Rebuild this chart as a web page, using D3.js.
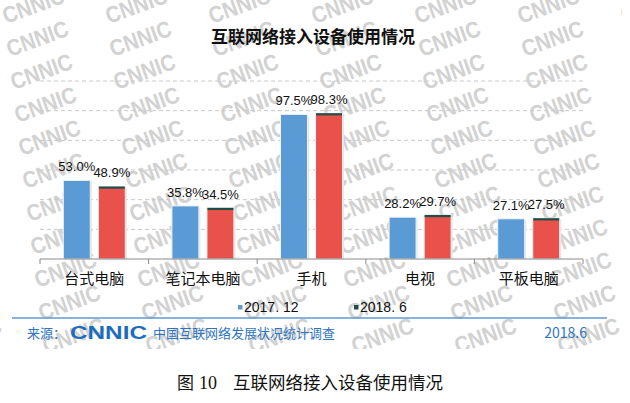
<!DOCTYPE html>
<html lang="zh">
  <head>
    <meta charset="UTF-8" />
    <title>互联网络接入设备使用情况</title>
    <script src="https://d3js.org/d3.v7.min.js"></script>
    <style>
      body { margin: 0; background: #fff; }
      svg { display: block; font-family: 'Liberation Sans', Arial, 'Noto Sans CJK SC', sans-serif; }
      .cjk { font-family: 'Noto Sans CJK SC', sans-serif; }
    </style>
  </head>
  <body>
    <svg width="630" height="403"></svg>
  </body>

  <script>
    // 数据
    var categories = ['台式电脑', '笔记本电脑', '手机', '电视', '平板电脑']
    var seriesNames = ['2017. 12', '2018. 6']
    var values2017 = [53.0, 35.8, 97.5, 28.2, 27.1]
    var values2018 = [48.9, 34.5, 98.3, 29.7, 27.5]
    var yTicks = [0, 20, 40, 60, 80, 100, 120]

    var svg = d3.select('svg')

    // 水印 (只在图片区域内)
    svg.append('clipPath').attr('id', 'wmclip')
      .append('rect').attr('x', 0).attr('y', 0).attr('width', 622).attr('height', 349)
    var wm = svg.append('g').attr('clip-path', 'url(#wmclip)')
    for (var r = 0; r < 12; r++) {
      for (var c = -1; c < 7; c++) {
        var wx = c * 103 + r * 4 + 6
        var wy = r * 33 + 24
        wm.append('text')
          .attr('transform', 'translate(' + wx + ',' + wy + ') rotate(-20)')
          .attr('font-size', 23)
          .attr('font-weight', 'bold')
          .attr('textLength', 64)
          .attr('lengthAdjust', 'spacingAndGlyphs')
          .attr('fill', '#d2d2d2')
          .text('CNNIC')
      }
    }

    var plotLeft = 40, plotRight = 583, plotTop = 81, plotBottom = 259

    var x0 = d3.scaleBand().domain(categories).range([plotLeft, plotRight]).padding(0)
    var bw = x0.bandwidth()
    var x1 = d3.scaleBand().domain(seriesNames).range([bw / 2 - 31, bw / 2 + 31]).paddingInner(0.23)
    var y = d3.scaleLinear().domain([0, 120]).range([plotBottom, plotTop])

    // 网格线
    svg.append('g')
      .selectAll('line')
      .data(yTicks.slice(1))
      .enter()
      .append('line')
      .attr('x1', plotLeft)
      .attr('x2', plotRight)
      .attr('y1', function (d) { return y(d) })
      .attr('y2', function (d) { return y(d) })
      .attr('stroke', '#c8c8c8')
      .attr('stroke-dasharray', '4,3')

    // 柱子
    var rows = categories.map(function (c, i) {
      return { cat: c, vals: [values2017[i], values2018[i]] }
    })
    var colors = ['#5b9bd5', '#e8524a']

    var groups = svg.append('g')
      .selectAll('g')
      .data(rows)
      .enter()
      .append('g')
      .attr('transform', function (d) { return 'translate(' + x0(d.cat) + ',0)' })

    groups.each(function (d) {
      var g = d3.select(this)
      d.vals.forEach(function (v, i) {
        var bx = x1(seriesNames[i])
        // 阴影
        g.append('rect')
          .attr('x', bx + 1.5)
          .attr('y', y(v) + 1.5)
          .attr('width', x1.bandwidth())
          .attr('height', plotBottom - y(v) - 1.5)
          .attr('fill', '#e4e4e4')
        g.append('rect')
          .attr('x', bx)
          .attr('y', y(v))
          .attr('width', x1.bandwidth())
          .attr('height', plotBottom - y(v))
          .attr('fill', colors[i])
          .attr('stroke', '#eef3f8')
          .attr('stroke-width', 1)
        if (i === 1) {
          g.append('rect')
            .attr('x', bx + 0.5)
            .attr('y', y(v))
            .attr('width', x1.bandwidth() - 1)
            .attr('height', 2.2)
            .attr('fill', '#1f4f48')
        }
        g.append('text')
          .attr('x', bx + x1.bandwidth() / 2)
          .attr('y', y(v) - 9)
          .attr('text-anchor', 'middle')
          .attr('font-size', 13)
          .attr('fill', '#111')
          .text(v.toFixed(1) + '%')
      })
    })

    // 坐标轴
    var axis = svg.append('g').attr('transform', 'translate(0,' + plotBottom + ')')
    axis.append('line').attr('x1', plotLeft).attr('x2', plotRight).attr('stroke', '#8a8a8a')
    axis.selectAll('.tick')
      .data(categories.map(function (c) { return x0(c) }).concat([plotRight]))
      .enter()
      .append('line')
      .attr('x1', function (d) { return d })
      .attr('x2', function (d) { return d })
      .attr('y1', 0)
      .attr('y2', 5)
      .attr('stroke', '#8a8a8a')
    axis.selectAll('.lbl')
      .data(categories)
      .enter()
      .append('text')
      .attr('class', 'cjk')
      .attr('x', function (d) { return x0(d) + bw / 2 })
      .attr('y', 25)
      .attr('text-anchor', 'middle')
      .attr('font-size', 15)
      .attr('fill', '#111')
      .text(function (d) { return d })

    // 标题
    svg.append('text')
      .attr('class', 'cjk')
      .attr('x', 313)
      .attr('y', 43)
      .attr('text-anchor', 'middle')
      .attr('font-size', 17)
      .attr('font-weight', 'bold')
      .attr('fill', '#111')
      .text('互联网络接入设备使用情况')

    // 图例
    var legendX = [238, 354]
    var legendColors = ['#5b9bd5', '#1f4f48']
    seriesNames.forEach(function (s, i) {
      svg.append('rect')
        .attr('x', legendX[i])
        .attr('y', 305)
        .attr('width', 4.5)
        .attr('height', 4.5)
        .attr('fill', legendColors[i])
      svg.append('text')
        .attr('x', legendX[i] + 6)
        .attr('y', 312)
        .attr('font-size', 14)
        .attr('fill', '#111')
        .text(s)
    })

    // 来源
    svg.append('line')
      .attr('x1', 12).attr('x2', 607)
      .attr('y1', 318).attr('y2', 318)
      .attr('stroke', '#5b9bd5')
      .attr('stroke-width', 1.5)
    svg.append('text')
      .attr('class', 'cjk')
      .attr('x', 27).attr('y', 338)
      .attr('font-size', 13)
      .attr('fill', '#2f74c0')
      .text('来源：')
    svg.append('text')
      .attr('x', 70).attr('y', 339)
      .attr('font-size', 19)
      .attr('font-weight', 'bold')
      .attr('textLength', 77)
      .attr('lengthAdjust', 'spacingAndGlyphs')
      .attr('fill', '#1d6cbe')
      .text('CNNIC')
    svg.append('text')
      .attr('class', 'cjk')
      .attr('x', 153).attr('y', 338)
      .attr('font-size', 13)
      .attr('fill', '#2f74c0')
      .text('中国互联网络发展状况统计调查')
    svg.append('text')
      .attr('class', 'cjk')
      .attr('x', 587).attr('y', 338)
      .attr('text-anchor', 'end')
      .attr('font-size', 14)
      .attr('fill', '#2f74c0')
      .text('2018.6')

    // 图注
    svg.append('text')
      .attr('class', 'cjk')
      .attr('x', 177).attr('y', 389)
      .attr('font-size', 17)
      .attr('fill', '#111')
      .text('图')
    svg.append('text')
      .attr('x', 199).attr('y', 389)
      .attr('font-family', "'Liberation Serif', serif")
      .attr('font-size', 18)
      .attr('fill', '#111')
      .text('10')
    svg.append('text')
      .attr('class', 'cjk')
      .attr('x', 233).attr('y', 389)
      .attr('font-size', 17.5)
      .attr('textLength', 210)
      .attr('fill', '#111')
      .text('互联网络接入设备使用情况')
  </script>
</html>
